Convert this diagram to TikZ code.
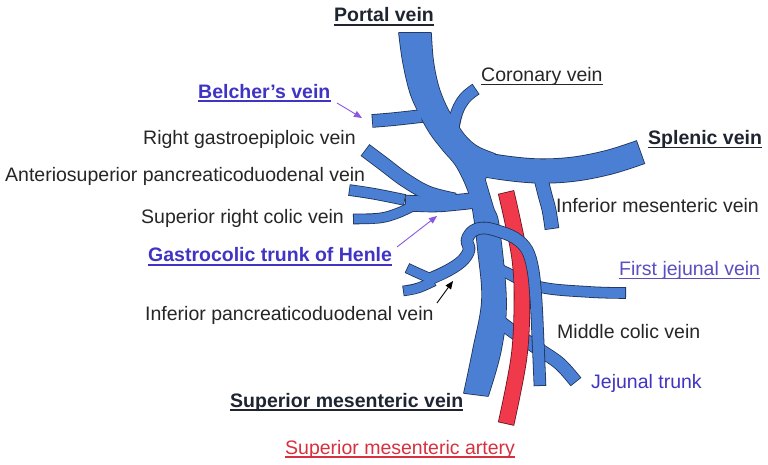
\documentclass[tikz,border=0pt]{standalone}
\usepackage{fontspec}
\setmainfont{Liberation Sans}
\usetikzlibrary{arrows.meta}
\definecolor{veinblue}{HTML}{4A7FD4}
\definecolor{veinedge}{HTML}{1E3358}
\definecolor{artred}{HTML}{F03A4C}
\definecolor{artedge}{HTML}{6A1422}
\definecolor{txtdark}{HTML}{262626}
\definecolor{txthead}{HTML}{1E2430}
\definecolor{lblblue}{HTML}{4034C4}
\definecolor{lblpurple}{HTML}{5A4FC0}
\definecolor{lblred}{HTML}{D8303E}
\definecolor{arrpurple}{HTML}{8A58E0}
\newcommand\vPortal[1]{\draw[#1] (399,33) -- plot[smooth,tension=0.6] coordinates {(431,33) (433,60) (438,85) (446,106) (456,123) (466,137) (478,147) (495,154)} -- (488,170) -- plot[smooth,tension=0.6] coordinates {(485,180) (493,207) (499,227) (506,300) (501,350) (488,396)} -- plot[smooth,tension=0.6] coordinates {(464,393) (473,350) (482,300) (478,250) (474,217) (469,193) (457,167) (443,150) (430,133) (419,113) (410,92) (403,62) (399,33)} -- cycle;}
\newcommand\vSplenic[1]{\draw[#1] plot[smooth,tension=0.6] coordinates {(470,162) (505,168) (540,171) (575,169) (610,162) (641,152)};}
\newcommand\vIMV[1]{\draw[#1] plot[smooth,tension=0.6] coordinates {(540,175) (545,195) (549,210) (552,229)};}
\newcommand\vCoronary[1]{\draw[#1] plot[smooth,tension=0.6] coordinates {(452,134) (457,112) (465,98) (476,89)};}
\newcommand\vBelcher[1]{\draw[#1] plot[smooth,tension=0.6] coordinates {(372,121) (395,119) (422,116)};}
\newcommand\vRGEV[1]{\draw[#1] plot[smooth,tension=0.6] coordinates {(365,150) (385,165) (405,180) (428,193) (455,200)};}
\newcommand\vASPD[1]{\draw[#1] plot[smooth,tension=0.6] coordinates {(349,190) (375,194) (405,200)};}
\newcommand\vSRCV[1]{\draw[#1] plot[smooth,tension=0.6] coordinates {(353,219) (380,218) (398,213) (415,205)};}
\newcommand\vHenle[1]{\draw[#1] plot[smooth,tension=0.6] coordinates {(405,203) (435,204) (460,202) (478,200)};}
\newcommand\vFJV[1]{\draw[#1] plot[smooth,tension=0.6] coordinates {(492,265) (505,272) (540,287) (590,292) (626,293)};}
\newcommand\vJT[1]{\draw[#1] plot[smooth,tension=0.6] coordinates {(495,318) (515,333) (540,350) (560,364) (576,382)};}
\newcommand\vSMA[1]{\draw[#1] plot[smooth,tension=0.6] coordinates {(506,192) (513,223) (520,260) (522,300) (519,357) (506,424)};}
\newcommand\vIPDa[1]{\draw[#1] plot[smooth,tension=0.6] coordinates {(407,268) (420,274) (434,280)};}
\newcommand\vIPDb[1]{\draw[#1] plot[smooth,tension=0.6] coordinates {(403,291) (418,288) (434,281)};}
\newcommand\vMCV[1]{\draw[#1] plot[smooth,tension=0.6] coordinates {(425,281) (447,271) (462,261) (469,250) (467,240) (473,231) (484,228) (498,231) (515,238) (527,250) (533,270) (536,300) (538,340) (540,386)};}
\newcommand\ulin[3]{\draw[#2, line width=#3] ([yshift=-3pt]#1.base west) -- ([yshift=-3pt]#1.base east);}
\begin{document}
\begin{tikzpicture}[x=1pt,y=-1pt,
  vo/.style={draw=veinedge, line width=#1+1.6pt, line cap=butt, line join=round},
  vf/.style={draw=veinblue, line width=#1, line cap=butt, line join=round, shorten <=0.8pt, shorten >=0.8pt},
  ao/.style={draw=artedge, line width=#1+1.6pt, line cap=butt},
  af/.style={draw=artred, line width=#1, line cap=butt, shorten <=0.8pt, shorten >=0.8pt},
  po/.style={draw=veinedge, line width=1.6pt, line join=round},
  pf/.style={fill=veinblue, draw=none},
  lbl/.style={anchor=base west, inner sep=0pt, font=\fontsize{19.5}{22}\selectfont, text=txtdark},
  blbl/.style={lbl, font=\fontsize{19.5}{22}\selectfont\bfseries},
  pointer/.style={line width=0.9pt, -{Triangle[length=8pt,width=6.5pt]}}]
\fill[white] (0,0) rectangle (768,465);
\useasboundingbox (0,0) rectangle (768,465);
% group A outlines
\vFJV{vo=10pt}
\vJT{vo=12pt}
\vSplenic{vo=23.5pt}
\vIMV{vo=13pt}
\vCoronary{vo=11pt}
\vBelcher{vo=12pt}
\vRGEV{vo=13pt}
\vASPD{vo=10pt}
\vSRCV{vo=9pt}
\vHenle{vo=15pt}
\vPortal{po}
% group A fills
\vFJV{vf=10pt}
\vJT{vf=12pt}
\vSplenic{vf=23.5pt}
\vIMV{vf=13pt}
\vCoronary{vf=11pt}
\vBelcher{vf=12pt}
\vRGEV{vf=13pt}
\vASPD{vf=10pt}
\vSRCV{vf=9pt}
\vHenle{vf=15pt}
\vPortal{pf}
% artery
\vSMA{ao=15pt}
\vSMA{af=15pt}
% group B
\vIPDa{vo=9pt}
\vIPDb{vo=9pt}
\vMCV{vo=11pt}
\vIPDa{vf=9pt}
\vIPDb{vf=9pt}
\vMCV{vf=11pt}
% labels
\node[blbl, text=txthead] (portal) at (334,21.7) {Portal vein};
\node[lbl] (coronary) at (481,81.7) {Coronary vein};
\node[blbl, text=lblblue] (belcher) at (198,98.3) {Belcher’s vein};
\node[lbl] (rgev) at (143,145) {Right gastroepiploic vein};
\node[lbl] (aspd) at (5,181.7) {Anteriosuperior pancreaticoduodenal vein};
\node[lbl] (srcv) at (141,223.3) {Superior right colic vein};
\node[blbl, text=lblblue] (henle) at (148,261.7) {Gastrocolic trunk of Henle};
\node[lbl] (ipdv) at (145,320.7) {Inferior pancreaticoduodenal vein};
\node[blbl, text=txthead] (smv) at (230,407.3) {Superior mesenteric vein};
\node[lbl, text=lblred] (sma) at (285,454) {Superior mesenteric artery};
\node[blbl, text=txthead] (splenic) at (648,144.5) {Splenic vein};
\node[lbl] (imv) at (556,213) {Inferior mesenteric vein};
\node[lbl, text=lblpurple] (fjv) at (619,275.7) {First jejunal vein};
\node[lbl] (mcv) at (557,338.3) {Middle colic vein};
\node[lbl, text=lblblue] (jt) at (591,388.3) {Jejunal trunk};
\ulin{portal}{txthead}{1.8pt}
\ulin{coronary}{txtdark}{1.2pt}
\ulin{belcher}{lblblue}{1.8pt}
\ulin{henle}{lblblue}{1.8pt}
\ulin{smv}{txthead}{1.8pt}
\ulin{sma}{lblred}{1.2pt}
\ulin{splenic}{txthead}{1.8pt}
\ulin{fjv}{lblpurple}{1.2pt}
% pointers
\coordinate (belcherFrom) at (337,103);
\coordinate (belcherTip) at (362,118);
\coordinate (henleFrom) at (397,247);
\coordinate (henleTip) at (437,216);
\coordinate (ipdvFrom) at (437,303);
\coordinate (ipdvTip) at (453,281);
\draw[pointer, arrpurple] (belcherFrom) -- (belcherTip);
\draw[pointer, arrpurple] (henleFrom) -- (henleTip);
\draw[pointer, black] (ipdvFrom) -- (ipdvTip);
\end{tikzpicture}
\end{document}
